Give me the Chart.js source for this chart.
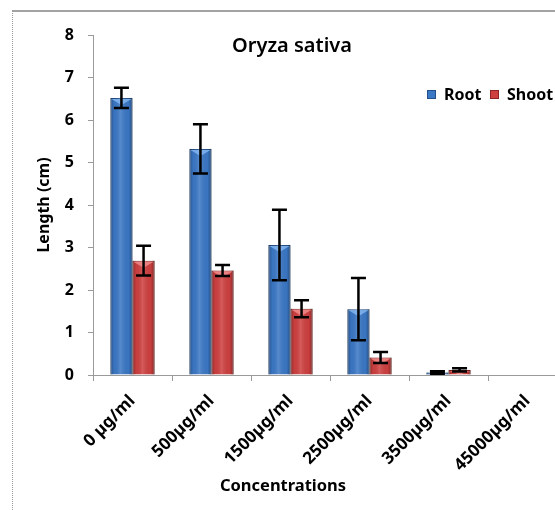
<!DOCTYPE html>
<html>
<head>
<meta charset="utf-8">
<script src="https://cdn.jsdelivr.net/npm/chart.js@4.4.0/dist/chart.umd.min.js"></script>
<style>
    html, body { margin: 0; padding: 0; background: #fff; overflow: hidden; width: 555px; height: 510px; }
    #frame { position: absolute; left: 12px; top: 10px; width: 600px; height: 520px;
             border-top: 2px solid #a3a3a3; border-left: 1px dotted #9a9a9a; }
    #lengthChart { position: absolute; left: 0; top: 0; }
</style>
</head>
<body>
<div id="frame"></div>
<canvas id="lengthChart" width="570" height="510"></canvas>
<script>
// values
var categories = ['0 µg/ml', '500µg/ml', '1500µg/ml', '2500µg/ml', '3500µg/ml', '45000µg/ml'];
var rootValues = [6.52, 5.32, 3.06, 1.55, 0.06, 0];
var rootErrors = [0.24, 0.58, 0.83, 0.73, 0.03, 0];
var shootValues = [2.69, 2.46, 1.56, 0.41, 0.12, 0];
var shootErrors = [0.35, 0.13, 0.20, 0.13, 0.04, 0];
var yTicks = [0, 1, 2, 3, 4, 5, 6, 7, 8];

var errorSets = [rootErrors, shootErrors];
var bevelColors = ['rgba(140,190,245,0.75)', 'rgba(245,150,150,0.75)'];
var FONT = '"Noto Sans", "Open Sans", sans-serif';

// shading on the bars + error bars, drawn from the library's own bar geometry
var barLook = {
    id: 'barLook',
    afterDatasetsDraw: function(chart) {
        var ctx = chart.ctx;
        var yScale = chart.scales.y;
        ctx.save();
        chart.data.datasets.forEach(function(ds, i) {
            var meta = chart.getDatasetMeta(i);
            meta.data.forEach(function(bar, j) {
                var p = bar.getProps(['x', 'y', 'base', 'width'], true);
                var left = p.x - p.width / 2;
                var h = p.base - p.y;
                if (h > 0.5) {
                    var g = ctx.createLinearGradient(left, 0, left + p.width, 0);
                    g.addColorStop(0, 'rgba(0,0,0,0.3)');
                    g.addColorStop(0.18, 'rgba(0,0,0,0.03)');
                    g.addColorStop(0.45, 'rgba(255,255,255,0.14)');
                    g.addColorStop(0.82, 'rgba(0,0,0,0.03)');
                    g.addColorStop(1, 'rgba(0,0,0,0.35)');
                    ctx.fillStyle = g;
                    ctx.fillRect(left, p.y, p.width, h);
                    var bh = Math.min(7, h);
                    ctx.fillStyle = bevelColors[i];
                    ctx.beginPath();
                    ctx.moveTo(left + 1, p.y + 1);
                    ctx.lineTo(left + p.width - 1, p.y + 1);
                    ctx.lineTo(p.x, p.y + bh);
                    ctx.closePath();
                    ctx.fill();
                }
                var e = errorSets[i][j];
                if (!e) return;
                var v = ds.data[j];
                var yt = yScale.getPixelForValue(v + e);
                var yb = yScale.getPixelForValue(Math.max(0, v - e));
                ctx.strokeStyle = '#000';
                ctx.lineWidth = 2.5;
                ctx.beginPath();
                ctx.moveTo(p.x, yt); ctx.lineTo(p.x, yb);
                ctx.moveTo(p.x - 7.5, yt); ctx.lineTo(p.x + 7.5, yt);
                ctx.moveTo(p.x - 7.5, yb); ctx.lineTo(p.x + 7.5, yb);
                ctx.stroke();
            });
        });
        ctx.restore();
    },
    afterDraw: function(chart) {
        var ctx = chart.ctx;
        ctx.save();
        ctx.fillStyle = '#000';
        ctx.textBaseline = 'middle';
        // title
        ctx.font = '600 20px ' + FONT;
        ctx.textAlign = 'center';
        ctx.fillText('Oryza sativa', 292, 46);
        // x axis title
        ctx.font = 'bold 16.5px ' + FONT;
        ctx.fillText('Concentrations', 283, 486);
        // legend
        ctx.font = 'bold 16px ' + FONT;
        ctx.textAlign = 'left';
        var lx = [427, 490];
        chart.data.datasets.forEach(function(ds, i) {
            ctx.fillStyle = ds.backgroundColor;
            ctx.fillRect(lx[i], 90, 9, 9);
            ctx.strokeStyle = ds.borderColor;
            ctx.lineWidth = 1;
            ctx.strokeRect(lx[i] + 0.5, 90.5, 8, 8);
            ctx.fillStyle = '#000';
            ctx.fillText(ds.label, lx[i] + 17, 95);
        });
        ctx.restore();
    }
};

var chart = new Chart(document.getElementById('lengthChart').getContext('2d'), {
    type: 'bar',
    data: {
        labels: categories,
        datasets: [
            { label: 'Root', data: rootValues, backgroundColor: '#3b78c6', borderColor: '#24508a', borderWidth: 1 },
            { label: 'Shoot', data: shootValues, backgroundColor: '#cf4040', borderColor: '#8e2424', borderWidth: 1 }
        ]
    },
    options: {
        responsive: false,
        animation: false,
        devicePixelRatio: 1,
        layout: { padding: { left: 0, top: 35, right: 3, bottom: 0 } },
        categoryPercentage: 0.56,
        barPercentage: 1,
        plugins: { legend: { display: false }, tooltip: { enabled: false } },
        scales: {
            x: {
                afterFit: function(s) { s.height = 135; },
                grid: { drawOnChartArea: false, tickLength: 6, color: '#9a9a9a' },
                border: { color: '#9a9a9a', width: 1 },
                ticks: {
                    autoSkip: false, minRotation: 45, maxRotation: 45, padding: 10,
                    color: '#000', font: { family: FONT, size: 17, weight: 'bold' }
                }
            },
            y: {
                min: 0, max: 8,
                afterFit: function(s) { s.width = 93; },
                afterBuildTicks: function(s) { s.ticks = yTicks.map(function(v) { return { value: v }; }); },
                grid: { drawOnChartArea: false, tickLength: 5, color: '#9a9a9a' },
                border: { color: '#9a9a9a', width: 1 },
                ticks: { padding: 14, color: '#000', font: { family: FONT, size: 16, weight: 'bold' } },
                title: {
                    display: true, text: 'Length (cm)', color: '#000',
                    padding: { top: 35, bottom: 0 },
                    font: { family: FONT, size: 16, weight: 'bold' }
                }
            }
        }
    },
    plugins: [barLook]
});
</script>
</body>
</html>
